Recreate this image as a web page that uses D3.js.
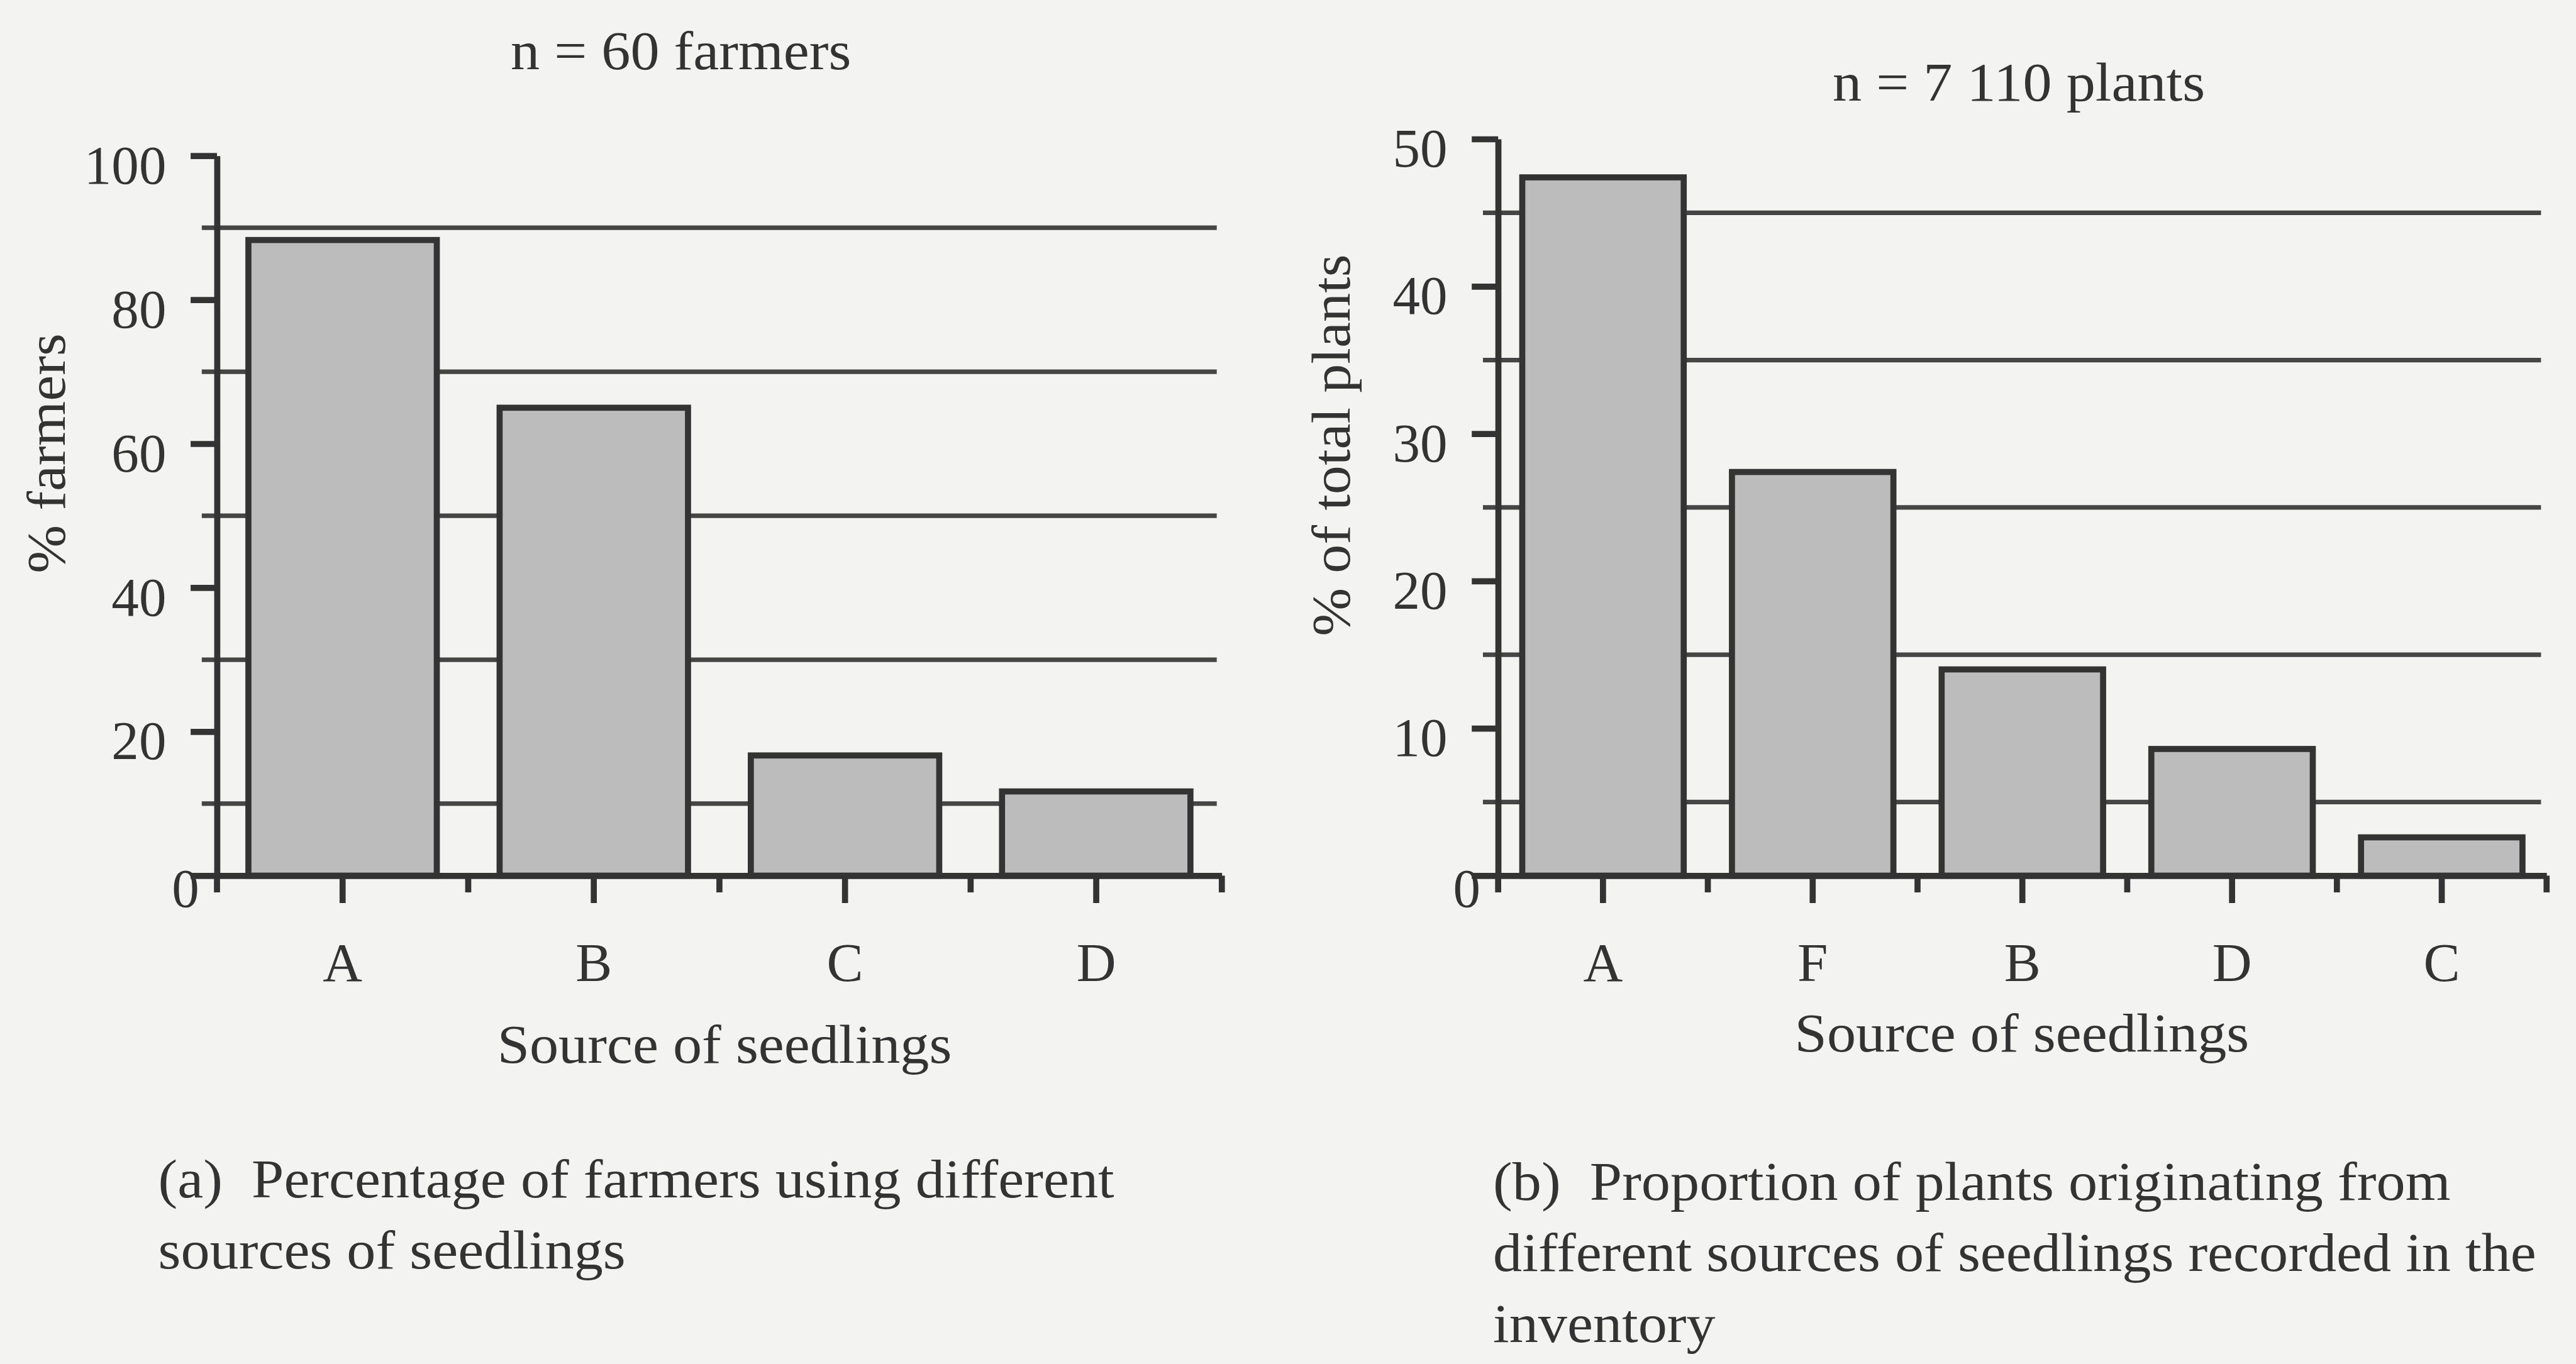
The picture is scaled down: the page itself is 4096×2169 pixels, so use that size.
<!DOCTYPE html>
<html>
<head>
<meta charset="utf-8">
<script src="https://cdn.jsdelivr.net/npm/d3@7"></script>
<style>
  html, body { margin: 0; padding: 0; background: #f3f3f1; overflow: hidden; }
  svg { display: block; }
</style>
</head>
<body>
<svg id="fig"></svg>
<script>
////////////////////////////// DATA //////////////////////////////

// (a) farmers
const catsA = ['A', 'B', 'C', 'D'];
const valsA = [88.3, 65, 16.7, 11.7];
const ticksA = [0, 20, 40, 60, 80, 100];
const gridA = [10, 30, 50, 70, 90];

// (b) plants
const catsB = ['A', 'F', 'B', 'D', 'C'];
const valsB = [47.4, 27.4, 14.0, 8.6, 2.6];
const ticksB = [0, 10, 20, 30, 40, 50];
const gridB = [5, 15, 25, 35, 45];

const titleA = 'n = 60 farmers';
const titleB = 'n = 7 110 plants';
const yTitleA = '% farmers';
const yTitleB = '% of total plants';
const xTitle = 'Source of seedlings';
const captionA = ['(a)  Percentage of farmers using different', 'sources of seedlings'];
const captionB = ['(b)  Proportion of plants originating from',
                  'different sources of seedlings recorded in the',
                  'inventory'];

////////////////////////////// SETUP //////////////////////////////

// work in the reference's pixel space, viewBox scales it to the window
const W = 4096, H = 2169;
const REF_W = 5081, REF_H = 2690;

const INK = '#333333';
const FONT = '"Liberation Serif", "Times New Roman", Times, serif';

const svg = d3.select('#fig')
  .attr('width', W)
  .attr('height', H)
  .attr('viewBox', `0 0 ${REF_W} ${REF_H}`);

svg.append('rect')
  .attr('width', REF_W)
  .attr('height', REF_H)
  .attr('fill', '#f3f3f1');

// text helper: the scanned type is a bit wider than Liberation Serif
function label(parent, x, y, str, anchor, rot) {
  parent.append('text')
    .attr('transform', `translate(${x},${y})` + (rot ? ` rotate(${rot})` : '') + ' scale(1.06,1)')
    .attr('text-anchor', anchor)
    .attr('font-family', FONT)
    .attr('font-size', 108)
    .attr('fill', INK)
    .style('white-space', 'pre')
    .text(str);
}

function buildPanel(cfg) {
  const g = svg.append('g');

  const x = d3.scaleBand()
    .domain(cfg.cats)
    .range(cfg.xRange)
    .paddingInner(cfg.pad)
    .paddingOuter(cfg.pad / 2);

  const y = d3.scaleLinear()
    .domain([0, cfg.yMax])
    .range(cfg.yRange);

  const x0 = cfg.xRange[0];

  // horizontal lines behind the bars
  g.selectAll('line.grid')
    .data(cfg.grid)
    .enter()
    .append('line')
    .attr('class', 'grid')
    .attr('x1', x0 - 30)
    .attr('x2', cfg.gridEnd)
    .attr('y1', d => y(d))
    .attr('y2', d => y(d))
    .attr('stroke', '#454545')
    .attr('stroke-width', 9);

  // bars
  g.selectAll('rect.bar')
    .data(cfg.vals)
    .enter()
    .append('rect')
    .attr('class', 'bar')
    .attr('x', (d, i) => x(cfg.cats[i]))
    .attr('y', d => y(d))
    .attr('width', x.bandwidth())
    .attr('height', d => y(0) - y(d))
    .attr('fill', '#bcbcbc')
    .attr('stroke', INK)
    .attr('stroke-width', 12);

  // y axis
  const yAxis = d3.axisLeft(y)
    .tickValues(cfg.ticks)
    .tickSize(52)
    .tickPadding(48)
    .tickSizeOuter(0);
  const yG = g.append('g')
    .attr('transform', `translate(${x0},0)`)
    .call(yAxis);
  yG.attr('font-family', FONT).attr('font-size', 108).attr('color', INK);
  yG.selectAll('path, line').attr('stroke-width', 12);
  yG.selectAll('text').attr('dy', '0.5em');
  yG.selectAll('text').filter(d => d === 0).attr('x', -35).attr('dy', '0.57em');

  // x axis
  const xAxis = d3.axisBottom(x)
    .tickSize(54)
    .tickPadding(77)
    .tickSizeOuter(0);
  const xG = g.append('g')
    .attr('transform', `translate(0,${y(0)})`)
    .call(xAxis);
  xG.attr('font-family', FONT).attr('font-size', 108).attr('color', INK);
  xG.selectAll('path, line').attr('stroke-width', 12);

  // short ticks on the category boundaries
  g.selectAll('line.minor')
    .data(d3.range(cfg.cats.length + 1))
    .enter()
    .append('line')
    .attr('class', 'minor')
    .attr('x1', i => x0 + i * x.step())
    .attr('x2', i => x0 + i * x.step())
    .attr('y1', y(0))
    .attr('y2', y(0) + 33)
    .attr('stroke', INK)
    .attr('stroke-width', 12);

  // texts
  label(g, cfg.titlePos[0], cfg.titlePos[1], cfg.title, 'middle');
  label(g, cfg.yTitlePos[0], cfg.yTitlePos[1], cfg.yTitle, 'middle', -90);
  label(g, cfg.xTitlePos[0], cfg.xTitlePos[1], xTitle, 'middle');
  cfg.caption.forEach((line, i) => {
    label(g, cfg.capPos[0], cfg.capPos[1] + i * 140, line, 'start');
  });
}

buildPanel({
  cats: catsA, vals: valsA, ticks: ticksA, grid: gridA,
  yMax: 100, xRange: [428, 2410], yRange: [1727, 307], pad: 0.25, gridEnd: 2400,
  title: titleA, titlePos: [1343, 136],
  yTitle: yTitleA, yTitlePos: [128, 894],
  xTitlePos: [1429, 2096],
  caption: captionA, capPos: [312, 2362]
});

buildPanel({
  cats: catsB, vals: valsB, ticks: ticksB, grid: gridB,
  yMax: 50, xRange: [2955, 5023], yRange: [1727, 274], pad: 0.23, gridEnd: 5012,
  title: titleB, titlePos: [3982, 198],
  yTitle: yTitleB, yTitlePos: [2662, 878],
  xTitlePos: [3988, 2074],
  caption: captionB, capPos: [2945, 2367]
});
</script>
</body>
</html>
